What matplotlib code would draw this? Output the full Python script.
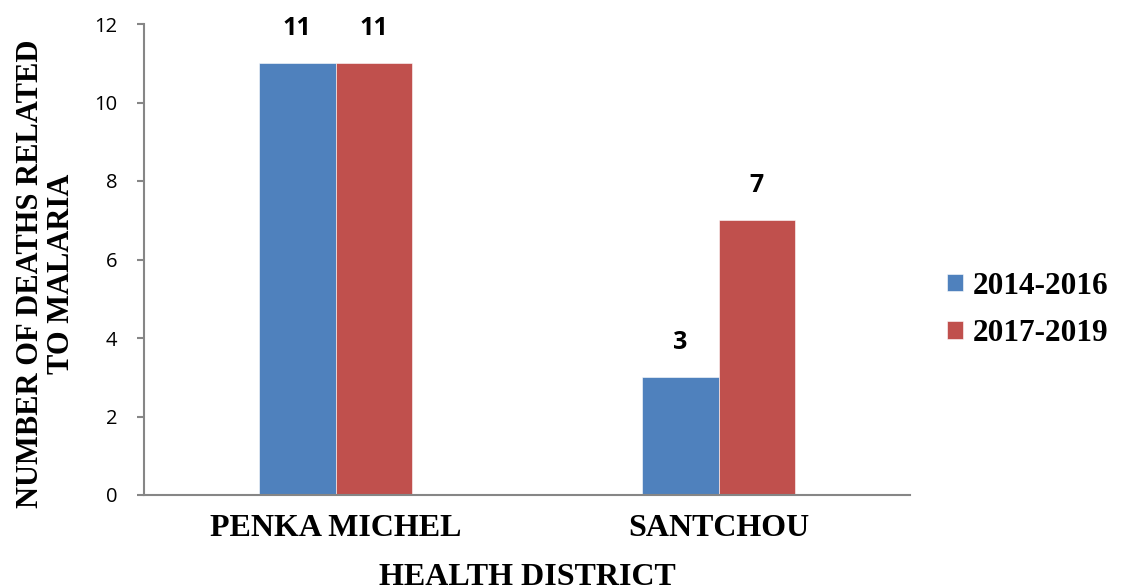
import matplotlib.pyplot as plt
import numpy as np

districts = ["PENKA MICHEL", "SANTCHOU"]
periods = ["2014-2016", "2017-2019"]
deaths_2014_2016 = [11, 3]
deaths_2017_2019 = [11, 7]
y_ticks = [0, 2, 4, 6, 8, 10, 12]

BLUE = "#4F81BD"
RED = "#C0504D"
SPINE = "#868686"
SERIF = "Liberation Serif"
SANS = "Open Sans"


def main():
    fig = plt.figure(figsize=(11.25, 5.86), dpi=100)
    ax = fig.add_axes([144 / 1125, 1 - 495 / 586, 766 / 1125, 471 / 586])

    x = np.arange(len(districts))
    w = 0.2
    b1 = ax.bar(x - w / 2, deaths_2014_2016, w, color=BLUE, label=periods[0],
                edgecolor="white", linewidth=0.4)
    b2 = ax.bar(x + w / 2, deaths_2017_2019, w, color=RED, label=periods[1],
                edgecolor="white", linewidth=0.4)

    for bars in (b1, b2):
        ax.bar_label(bars, padding=16, fontsize=18, fontweight="bold",
                     family=SANS)

    ax.set_xlim(-0.5, 1.5)
    ax.set_ylim(0, 12)
    ax.set_yticks(y_ticks)
    ax.set_yticklabels([str(t) for t in y_ticks], family=SANS, fontsize=14.5)
    ax.set_xticks(x)
    ax.set_xticklabels(districts, family=SERIF, fontsize=23, fontweight="bold")

    for s in ("top", "right"):
        ax.spines[s].set_visible(False)
    for s in ("left", "bottom"):
        ax.spines[s].set_color(SPINE)
        ax.spines[s].set_linewidth(1.5)
    ax.tick_params(axis="y", length=5, width=1.5, color=SPINE, pad=14)
    ax.tick_params(axis="x", length=0, pad=14)

    ax.set_xlabel("HEALTH DISTRICT", family=SERIF, fontsize=23,
                  fontweight="bold", labelpad=14)
    ax.set_ylabel("NUMBER OF DEATHS RELATED\nTO MALARIA", family=SERIF,
                  fontsize=22, fontweight="bold", linespacing=1.05)
    ax.yaxis.label.set_va("center")
    ax.yaxis.set_label_coords(-0.128, 0.47)

    ax.legend(loc="center left", bbox_to_anchor=(1.012, 0.393),
              frameon=False, handlelength=0.5, handleheight=0.5,
              handletextpad=0.3, labelspacing=0.6,
              prop={"family": SERIF, "size": 22.5, "weight": "bold"})

    fig.savefig("out.png", dpi=100)
    plt.close(fig)


if __name__ == "__main__":
    main()
